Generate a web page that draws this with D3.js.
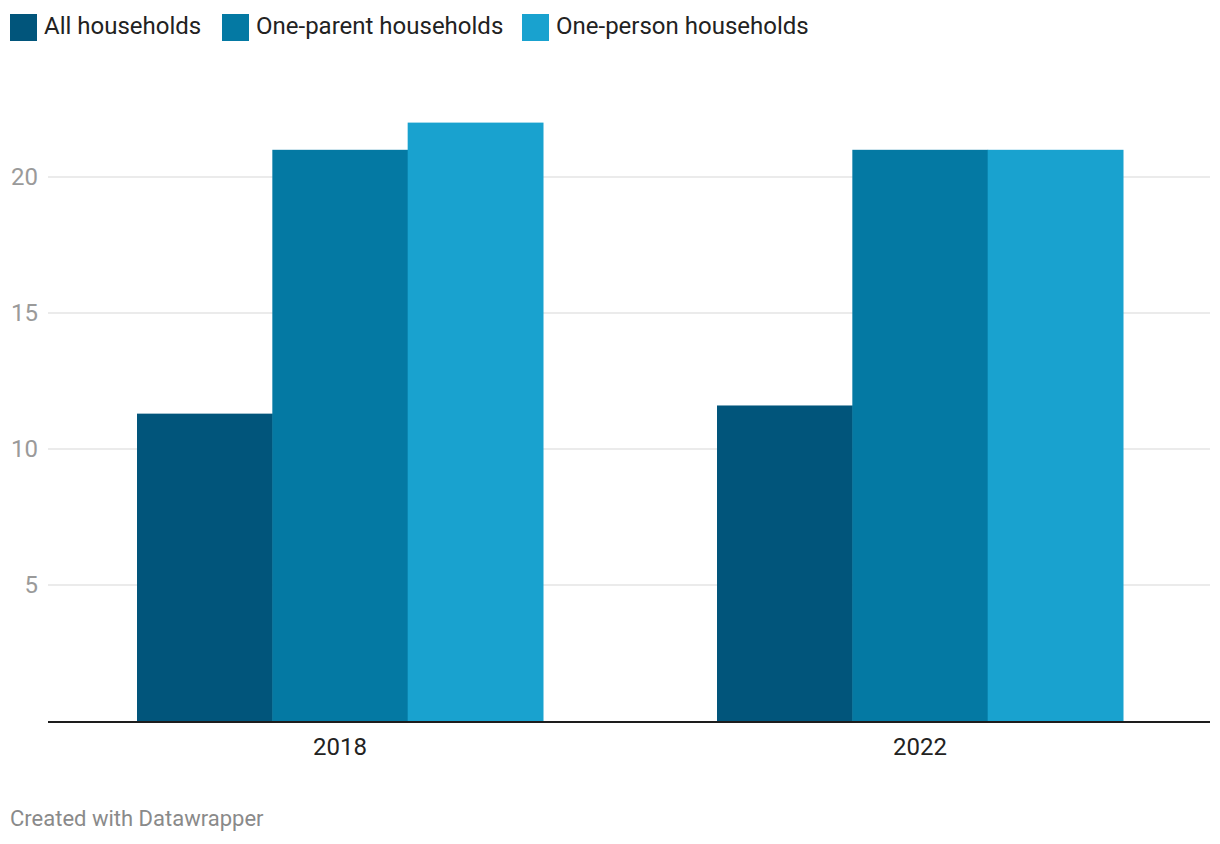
<!DOCTYPE html>
<html><head><meta charset="utf-8">
<script src="https://cdn.jsdelivr.net/npm/d3@7"></script>
<style>body{margin:0;background:#fff;font-family:Roboto,sans-serif}</style>
</head><body>
<svg id="c" width="1220" height="844"></svg>
<script>
const years = ["2018", "2022"];
const seriesNames = ["All households", "One-parent households", "One-person households"];
const allHouseholds = [11.3, 11.6];
const oneParent = [21, 21];
const onePerson = [22, 21];
const yTicks = [5, 10, 15, 20];
const colors = ["#01557b", "#0479a3", "#19a2cf"];

const seriesValues = [allHouseholds, oneParent, onePerson];
const svg = d3.select("#c");
const x0 = d3.scaleBand().domain(years).range([50, 1210]).paddingInner(0.3).paddingOuter(0.15);
const x1 = d3.scaleBand().domain(seriesNames).range([0, x0.bandwidth()]);
const y = d3.scaleLinear().domain([0, 20]).range([721, 177]);

// gridlines
svg.append("g").selectAll("line").data(yTicks).join("line")
  .attr("x1", 48).attr("x2", 1210)
  .attr("y1", d => y(d)).attr("y2", d => y(d))
  .attr("stroke", "#e5e5e5").attr("stroke-width", 1.5);
svg.append("g").selectAll("text").data(yTicks).join("text")
  .attr("x", 38).attr("y", d => y(d) + 8)
  .attr("text-anchor", "end").attr("font-size", 24).attr("fill", "#9a9a9a")
  .text(d => d);

// bars
const g = svg.append("g");
years.forEach((yr, i) => {
  seriesNames.forEach((s, j) => {
    const v = seriesValues[j][i];
    g.append("rect")
      .attr("x", x0(yr) + x1(s))
      .attr("width", x1.bandwidth() + 0.5)
      .attr("y", y(v)).attr("height", y(0) - y(v))
      .attr("fill", colors[j]);
  });
});

// axis line
svg.append("line").attr("x1", 48).attr("x2", 1210).attr("y1", 722).attr("y2", 722)
  .attr("stroke", "#1d1d1d").attr("stroke-width", 2);
svg.append("g").selectAll("text").data(years).join("text")
  .attr("x", d => x0(d) + x0.bandwidth() / 2).attr("y", 755)
  .attr("text-anchor", "middle").attr("font-size", 24).attr("fill", "#222")
  .text(d => d);

// legend
const legendX = [10, 222, 522];
const lg = svg.append("g");
seriesNames.forEach((s, j) => {
  lg.append("rect").attr("x", legendX[j]).attr("y", 14).attr("width", 27).attr("height", 27).attr("fill", colors[j]);
  lg.append("text").attr("x", legendX[j] + 34).attr("y", 34).attr("font-size", 24).attr("fill", "#222").text(s);
});

svg.append("text").attr("x", 10).attr("y", 826).attr("font-size", 22).attr("fill", "#8a8a8a").text("Created with Datawrapper");
</script>
</body></html>
